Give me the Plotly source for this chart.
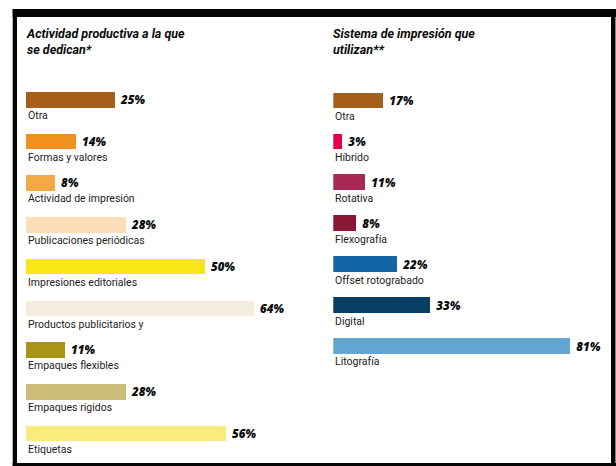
import plotly.graph_objects as go

W, H = 616, 466

# Left panel: productive activity
act_labels = ["Otra", "Formas y valores", "Actividad de impresión",
              "Publicaciones periódicas", "Impresiones editoriales",
              "Productos publicitarios y", "Empaques flexibles",
              "Empaques rígidos", "Etiquetas"]
act_values = [25, 14, 8, 28, 50, 64, 11, 28, 56]
act_colors = ["#A65F1B", "#F0901E", "#F4A947", "#FCDDBA", "#F8E616",
              "#F2EDDC", "#A99417", "#CBBD79", "#F9EB7C"]

# Right panel: printing system
sys_labels = ["Otra", "Híbrido", "Rotativa", "Flexografía",
              "Offset rotograbado", "Digital", "Litografía"]
sys_values = [17, 3, 11, 8, 22, 33, 81]
sys_colors = ["#A65F1B", "#E5004E", "#A92953", "#8C1734",
              "#1366A6", "#073E64", "#64A6D2"]

title_left = "Actividad productiva a la que<br>se dedican*"
title_right = "Sistema de impresión que<br>utilizan**"

LABEL_FONT = dict(family="Roboto", size=10.5, color="#1E1B1C")
VALUE_FONT = dict(family="Open Sans", size=11.5, color="#0A0A0A", weight=800, style="italic")
TITLE_FONT = dict(family="Roboto", size=12.5, color="#0A0A0A", weight="bold", style="italic")


def px_x(p):
    return p / W


def px_y(p):
    return 1 - p / H


fig = go.Figure()

fig.add_trace(go.Bar(
    x=act_values, y=act_labels, orientation="h",
    marker=dict(color=act_colors, line=dict(width=0)),
    width=0.375,
    text=[f" {v}%" for v in act_values], textposition="outside",
    textfont=VALUE_FONT, constraintext="none", cliponaxis=False,
    hoverinfo="skip", xaxis="x", yaxis="y",
))
fig.add_trace(go.Bar(
    x=sys_values, y=sys_labels, orientation="h",
    marker=dict(color=sys_colors, line=dict(width=0)),
    width=0.38,
    text=[f" {v}%" for v in sys_values], textposition="outside",
    textfont=VALUE_FONT, constraintext="none", cliponaxis=False,
    hoverinfo="skip", xaxis="x2", yaxis="y2",
))

# Panel geometry (pixels): left scale 3.57 px per %, right 2.93 px per %
left_x0, left_range = 26, 80
right_x0, right_range = 333.3, 95
left_top, left_pitch, n_left = 99.5 - 41.7 / 2, 41.7, len(act_labels)
right_top, right_pitch, n_right = 100.5 - 40.9 / 2, 40.9, len(sys_labels)

fig.update_layout(
    width=W, height=H,
    margin=dict(l=0, r=0, t=0, b=0),
    paper_bgcolor="white", plot_bgcolor="rgba(0,0,0,0)",
    showlegend=False, bargap=0,
    xaxis=dict(domain=[px_x(left_x0), px_x(left_x0 + 3.57 * left_range)],
               range=[0, left_range], visible=False, fixedrange=True),
    yaxis=dict(domain=[px_y(left_top + left_pitch * n_left), px_y(left_top)],
               categoryorder="array", categoryarray=act_labels,
               range=[n_left - 0.5, -0.5], visible=False, fixedrange=True),
    xaxis2=dict(domain=[px_x(right_x0), px_x(right_x0 + 2.93 * right_range)],
                range=[0, right_range], visible=False, fixedrange=True),
    yaxis2=dict(domain=[px_y(right_top + right_pitch * n_right), px_y(right_top)],
                categoryorder="array", categoryarray=sys_labels,
                range=[n_right - 0.5, -0.5], visible=False, fixedrange=True,
                anchor="x2"),
)

annotations = []
for lab in act_labels:
    annotations.append(dict(x=0, y=lab, xref="x", yref="y", text=lab,
                            showarrow=False, xanchor="left", yanchor="middle",
                            yshift=-16, font=LABEL_FONT))
for lab in sys_labels:
    annotations.append(dict(x=0, y=lab, xref="x2", yref="y2", text=lab,
                            showarrow=False, xanchor="left", yanchor="middle",
                            yshift=-16, font=LABEL_FONT))

annotations.append(dict(x=px_x(24), y=px_y(24), xref="paper", yref="paper",
                        text=title_left, showarrow=False, align="left",
                        xanchor="left", yanchor="top", font=TITLE_FONT))
annotations.append(dict(x=px_x(331), y=px_y(24), xref="paper", yref="paper",
                        text=title_right, showarrow=False, align="left",
                        xanchor="left", yanchor="top", font=TITLE_FONT))
fig.update_layout(annotations=annotations)

# Black frame around the panels
frame = [(12.7, 9, 616, 17),     # top
         (12.7, 9, 17, 466),     # left
         (611, 9, 615.5, 466),   # right
         (12.7, 463, 616, 466)]  # bottom
fig.update_layout(shapes=[
    dict(type="rect", xref="paper", yref="paper",
         x0=px_x(x0), x1=px_x(x1), y0=px_y(y1), y1=px_y(y0),
         fillcolor="#050505", line=dict(width=0), layer="above")
    for x0, y0, x1, y1 in frame
])

fig.write_html("out.html", config=dict(displayModeBar=False))
